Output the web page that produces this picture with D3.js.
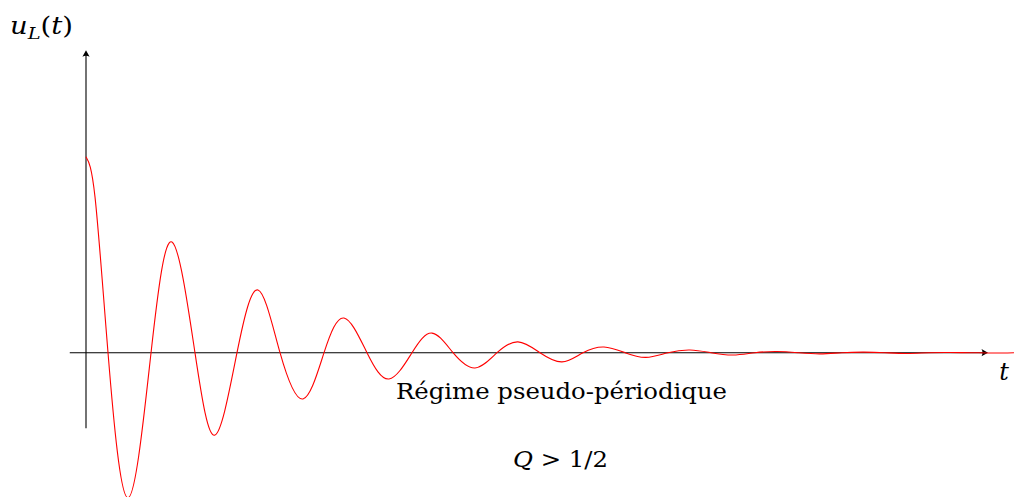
<!DOCTYPE html>
<html>
<head>
<meta charset="utf-8">
<script src="https://cdn.jsdelivr.net/npm/d3@7"></script>
<style>
  body { margin: 0; background: #fff; }
</style>
</head>
<body>
<svg id="svgChart"></svg>
<script>
/// DATA ///////////////////////////////////////////////////////////////////
// time (normalised to axis length) and u_L / E
var tValues = [0, 0.010, 0.0244, 0.0466, 0.0721, 0.0953, 0.1208, 0.1430, 0.1674, 0.1907,
               0.2151, 0.2406, 0.2639, 0.2860, 0.3115, 0.3359, 0.3614, 0.3836, 0.4069, 0.4313,
               0.4557, 0.4789, 0.5033, 0.5277, 0.5510, 0.5743, 0.5976, 0.6208, 0.6452, 0.6696,
               0.6929, 0.7173, 0.7417, 0.7661, 0.7894, 0.8137, 0.8381, 0.8625, 0.8858, 0.9102,
               0.9346, 0.9579, 0.9823, 1.0055, 1.0288];
var uValues = [1.00, 0.794, 0, -0.74, 0, 0.565, 0, -0.42, 0, 0.32,
               0, -0.236, 0, 0.177, 0, -0.134, 0, 0.10, 0, -0.078,
               0, 0.055, 0, -0.047, 0, 0.029, 0, -0.024, 0, 0.014,
               0, -0.012, 0, 0.006, 0, -0.006, 0, 0.003, 0, -0.004,
               0, 0.001, 0, -0.0015, 0];

var xLabel = "t";
var yLabelMain = "u", yLabelSub = "L", yLabelEnd = "(t)";
var regimeLabel = "Régime pseudo-périodique";
var qLabel = "Q > 1/2";

var SERIF = "'DejaVu Serif', 'Liberation Serif', serif";

/// SETUP //////////////////////////////////////////////////////////////////
var WIDTH = 1014, HEIGHT = 497;

var svg = d3.select('#svgChart')
    .attr('width', WIDTH)
    .attr('height', HEIGHT)
    .attr('font-family', SERIF);

var x = d3.scaleLinear().domain([0, 1]).range([86, 988]);
var y = d3.scaleLinear().domain([0, 1]).range([352.7, 156.7]);

var data = tValues.map(function (t, i) { return { t: t, u: uValues[i] }; });

/// AXES ///////////////////////////////////////////////////////////////////
function arrowHead(tx, ty, angle) {
    // small LaTeX-like arrow head pointing along angle (deg)
    svg.append('path')
        .attr('d', 'M0,0 L-6.5,-3.6 Q-4.5,0 -6.5,3.6 Z')
        .attr('fill', '#000')
        .attr('transform', 'translate(' + tx + ',' + ty + ') rotate(' + angle + ')');
}

// X axis
svg.append('line')
    .attr('x1', x(-0.018)).attr('x2', x(1) - 3)
    .attr('y1', y(0)).attr('y2', y(0))
    .attr('stroke', '#000').attr('stroke-width', 1.1);
arrowHead(x(1), y(0), 0);

// Y axis
svg.append('line')
    .attr('x1', x(0)).attr('x2', x(0))
    .attr('y1', y(-0.385)).attr('y2', y(1.543) + 3)
    .attr('stroke', '#000').attr('stroke-width', 1.1);
arrowHead(x(0), y(1.543), -90);

/// CURVE //////////////////////////////////////////////////////////////////
var line = d3.line()
    .x(function (d) { return x(d.t); })
    .y(function (d) { return y(d.u); })
    .curve(d3.curveNatural);

svg.append('path')
    .datum(data)
    .attr('d', line)
    .attr('fill', 'none')
    .attr('stroke', '#ff0000')
    .attr('stroke-width', 1.1);

/// LABELS /////////////////////////////////////////////////////////////////
var yl = svg.append('text')
    .attr('x', 10).attr('y', 34)
    .attr('font-family', SERIF)
    .attr('textLength', 63)
    .attr('lengthAdjust', 'spacingAndGlyphs')
    .style('font-size', '24px')
    .style('font-style', 'italic');
yl.append('tspan').text(yLabelMain);
yl.append('tspan').attr('dy', 5).style('font-size', '17px').text(yLabelSub);
yl.append('tspan').attr('dy', -5).style('font-style', 'normal').text('(');
yl.append('tspan').text('t');
yl.append('tspan').style('font-style', 'normal').text(')');

svg.append('text')
    .attr('x', 1004).attr('y', 380)
    .attr('text-anchor', 'middle')
    .attr('font-family', SERIF)
    .style('font-size', '24px')
    .style('font-style', 'italic')
    .text(xLabel);

svg.append('text')
    .attr('x', 396).attr('y', 399)
    .attr('font-family', SERIF)
    .attr('textLength', 331)
    .attr('lengthAdjust', 'spacingAndGlyphs')
    .style('font-size', '23px')
    .text(regimeLabel);

var ql = svg.append('text')
    .attr('x', 513).attr('y', 467)
    .attr('font-family', SERIF)
    .attr('textLength', 95)
    .attr('lengthAdjust', 'spacingAndGlyphs')
    .style('font-size', '23px');
ql.append('tspan').style('font-style', 'italic').text('Q');
ql.append('tspan').text(' > 1/2');
</script>
</body>
</html>
